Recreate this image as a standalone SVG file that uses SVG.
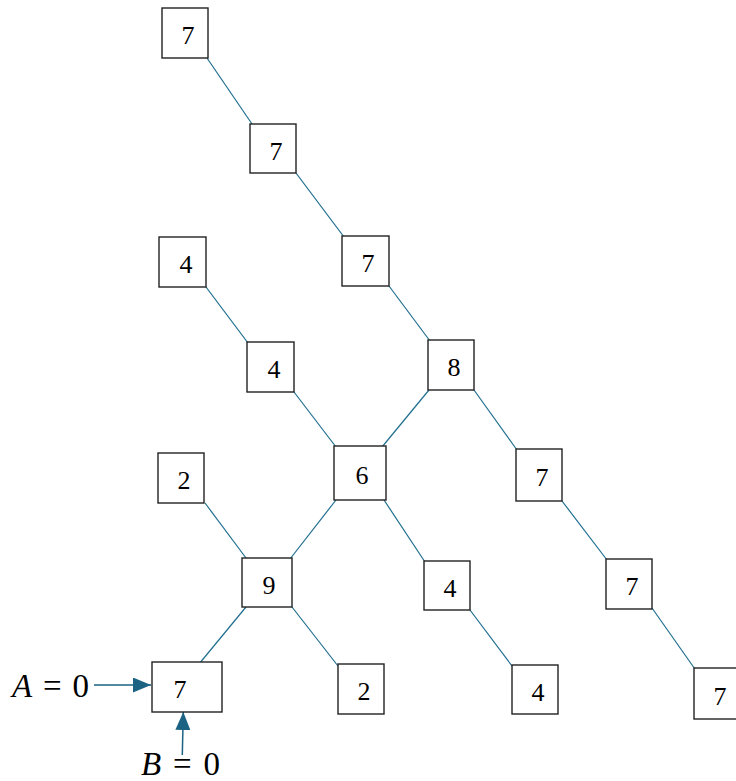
<svg xmlns="http://www.w3.org/2000/svg" width="736" height="781" viewBox="0 0 736 781">
<style>
.box{fill:#fff;stroke:#222;stroke-width:1.4}
.num{font-family:"Liberation Serif","Times New Roman",serif;font-size:26px;fill:#000;text-anchor:middle}
.lbl{font-family:"Liberation Serif","Times New Roman",serif;font-size:33px;fill:#000}
.edge{stroke:#1f6e8f;stroke-width:1.2;fill:none}
.arr{stroke:#1b6283;stroke-width:1.5;fill:none}
</style>
<defs>
<marker id="ah" viewBox="0 0 18 15" refX="18" refY="7.5" markerWidth="18" markerHeight="15" markerUnits="userSpaceOnUse" orient="auto">
<path d="M0,0 L18,7.5 L0,15 Z" fill="#1b6283"/>
</marker>
</defs>
<g id="connectors">
<line class="edge" x1="207" y1="58" x2="252" y2="124"/>
<line class="edge" x1="296" y1="173" x2="344" y2="237"/>
<line class="edge" x1="389" y1="286" x2="430" y2="341"/>
<line class="edge" x1="206" y1="287" x2="248" y2="343"/>
<line class="edge" x1="294" y1="392" x2="336" y2="447"/>
<line class="edge" x1="429" y1="390" x2="382" y2="447"/>
<line class="edge" x1="474" y1="390" x2="517" y2="450"/>
<line class="edge" x1="562" y1="501" x2="607" y2="560"/>
<line class="edge" x1="652" y1="608" x2="697" y2="672"/>
<line class="edge" x1="336" y1="500" x2="290" y2="559"/>
<line class="edge" x1="384" y1="500" x2="425" y2="562"/>
<line class="edge" x1="205" y1="503" x2="246" y2="558"/>
<line class="edge" x1="246" y1="607" x2="199" y2="664"/>
<line class="edge" x1="292" y1="607" x2="338" y2="666"/>
<line class="edge" x1="470" y1="610" x2="512" y2="666"/>
<line class="arr" x1="94" y1="685" x2="151" y2="685" marker-end="url(#ah)"/>
<line class="arr" x1="182.3" y1="755" x2="183.3" y2="712" marker-end="url(#ah)"/>
</g>
<g id="n1"><rect class="box" x="162" y="8" width="46" height="50"/><text class="num" x="188" y="44">7</text></g>
<g id="n2"><rect class="box" x="250" y="124" width="46" height="49"/><text class="num" x="276" y="160">7</text></g>
<g id="n3"><rect class="box" x="342" y="236" width="47" height="50"/><text class="num" x="368" y="272">7</text></g>
<g id="n4"><rect class="box" x="428" y="340" width="46" height="50"/><text class="num" x="454" y="376">8</text></g>
<g id="n5"><rect class="box" x="159" y="237" width="47" height="50"/><text class="num" x="186" y="273">4</text></g>
<g id="n6"><rect class="box" x="247" y="342" width="47" height="50"/><text class="num" x="274" y="378">4</text></g>
<g id="n7"><rect class="box" x="334" y="446" width="52" height="54"/><text class="num" x="362" y="484">6</text></g>
<g id="n8"><rect class="box" x="516" y="449" width="46" height="52"/><text class="num" x="542" y="486">7</text></g>
<g id="n9"><rect class="box" x="158" y="453" width="46" height="50"/><text class="num" x="184" y="489">2</text></g>
<g id="n10"><rect class="box" x="242" y="558" width="50" height="49"/><text class="num" x="269" y="594">9</text></g>
<g id="n11"><rect class="box" x="424" y="561" width="46" height="49"/><text class="num" x="450" y="597">4</text></g>
<g id="n12"><rect class="box" x="606" y="559" width="46" height="50"/><text class="num" x="632" y="595">7</text></g>
<g id="n13"><rect class="box" x="152" y="662" width="70" height="50"/><text class="num" x="180" y="698">7</text></g>
<g id="n14"><rect class="box" x="338" y="664" width="46" height="50"/><text class="num" x="364" y="700">2</text></g>
<g id="n15"><rect class="box" x="512" y="665" width="46" height="49"/><text class="num" x="538" y="701">4</text></g>
<g id="n16"><rect class="box" x="694" y="668" width="46" height="51"/><text class="num" x="720" y="705">7</text></g>
<g id="labelA"><text class="lbl" x="12" y="697" textLength="77" lengthAdjust="spacing"><tspan font-style="italic">A</tspan> = 0</text></g>
<g id="labelB"><text class="lbl" x="141" y="775" textLength="79" lengthAdjust="spacing"><tspan font-style="italic">B</tspan> = 0</text></g>
</svg>
